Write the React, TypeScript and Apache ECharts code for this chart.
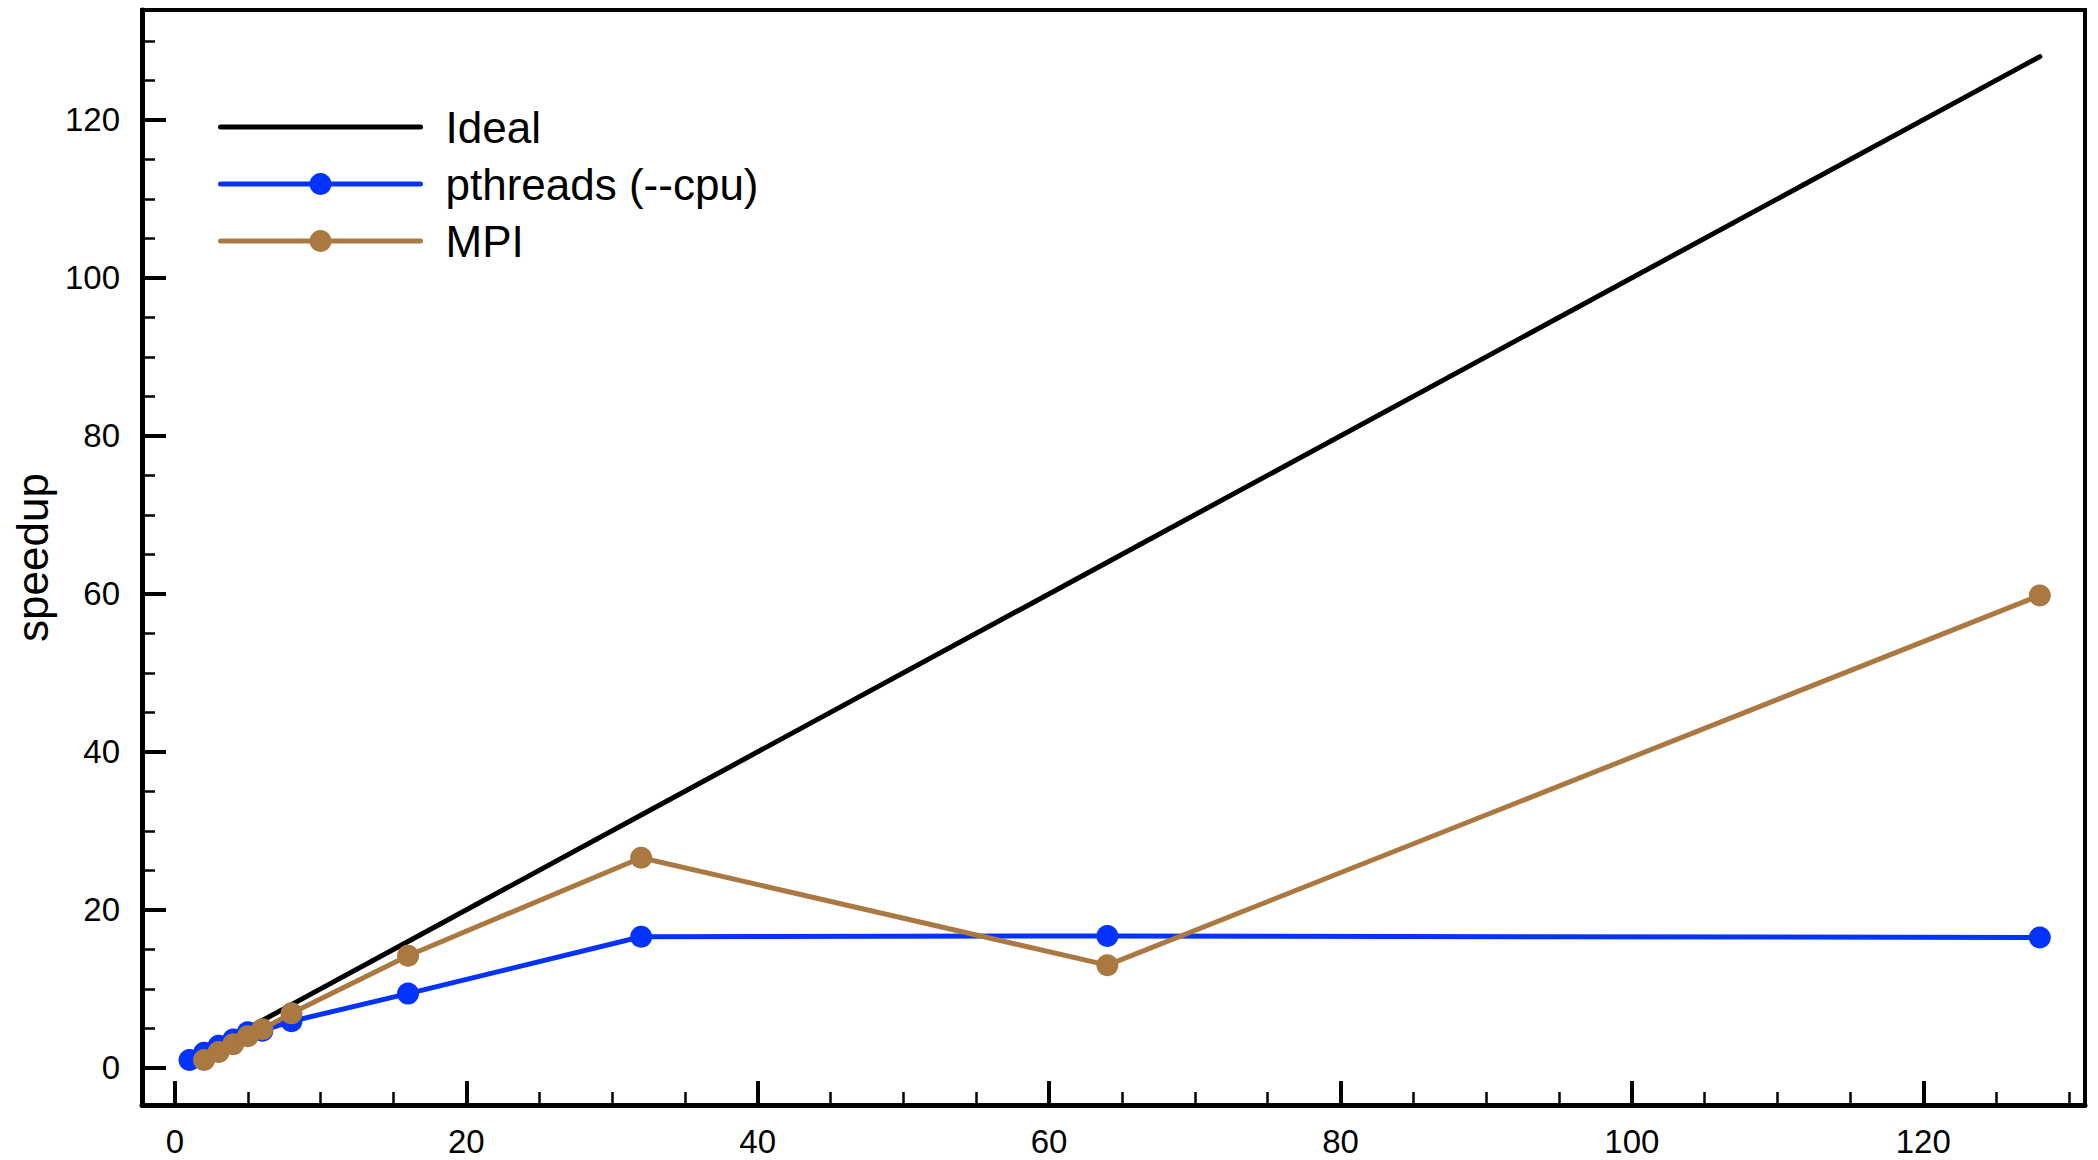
import React, { useEffect, useRef } from "react";
import * as echarts from "echarts";

const threads = [1, 2, 3, 4, 5, 6, 8, 16, 32, 64, 128];
const idealSpeedup = [1, 2, 3, 4, 5, 6, 8, 16, 32, 64, 128];
const pthreadsSpeedup = [1.0, 1.9, 2.8, 3.6, 4.5, 4.7, 5.9, 9.4, 16.6, 16.7, 16.5];
const mpiProcs = [2, 3, 4, 5, 6, 8, 16, 32, 64, 128];
const mpiSpeedup = [1.0, 2.0, 3.0, 4.0, 4.9, 6.9, 14.2, 26.6, 13.0, 59.8];

const xMajorTicks = [0, 20, 40, 60, 80, 100, 120];
const xMinorTicks = [5, 10, 15, 25, 30, 35, 45, 50, 55, 65, 70, 75, 85, 90, 95, 105, 110, 115, 125, 130];
const yMajorTicks = [0, 20, 40, 60, 80, 100, 120];
const yMinorTicks = [5, 10, 15, 25, 30, 35, 45, 50, 55, 65, 70, 75, 85, 90, 95, 105, 110, 115, 125, 130];

const X_MIN = -2.26;
const X_MAX = 131.1;
const Y_MIN = -4.7;
const Y_MAX = 133.9;

const FONT = "'Liberation Sans', Arial, Helvetica, sans-serif";
const BLUE = "#0433FF";
const BROWN = "#AA7942";

export default function App() {
  const ref = useRef<HTMLDivElement>(null);

  useEffect(() => {
    if (!ref.current) return;
    const chart = echarts.init(ref.current, undefined, { renderer: "svg" });

    const zip = (xs: number[], ys: number[]) => xs.map((x, i) => [x, ys[i]]);

    const baseX = {
      type: "value",
      min: X_MIN,
      max: X_MAX,
      position: "bottom",
      splitLine: { show: false },
    };
    const baseY = {
      type: "value",
      min: Y_MIN,
      max: Y_MAX,
      position: "left",
      splitLine: { show: false },
    };

    chart.setOption({
      animation: false,
      backgroundColor: "#ffffff",
      textStyle: { fontFamily: FONT },
      grid: {
        left: 142,
        right: 13,
        top: 10,
        bottom: 55,
        show: true,
        borderColor: "#000",
        borderWidth: 4,
        containLabel: false,
      },
      legend: {
        orient: "vertical",
        left: 218,
        top: 105,
        padding: 0,
        itemWidth: 200,
        itemHeight: 27.5,
        itemGap: 13,
        lineStyle: { width: 5, cap: "round" },
        textStyle: {
          fontSize: 44,
          color: "#000",
          fontFamily: FONT,
          padding: [0, 0, 0, 20],
        },
        data: [
          { name: "Ideal", itemStyle: { opacity: 0 }, lineStyle: { width: 5, color: "#000", cap: "round" } },
          { name: "pthreads (--cpu)", lineStyle: { width: 5, color: BLUE, cap: "round" } },
          { name: "MPI", lineStyle: { width: 5, color: BROWN, cap: "round" } },
        ],
      },
      xAxis: [
        {
          ...baseX,
          axisLine: { show: true, onZero: false, lineStyle: { color: "#000", width: 5 } },
          axisTick: {
            show: true,
            inside: true,
            length: 24,
            customValues: xMajorTicks,
            lineStyle: { color: "#000", width: 4 },
          },
          axisLabel: {
            show: true,
            customValues: xMajorTicks,
            fontSize: 33,
            color: "#000",
            margin: 20,
            fontFamily: FONT,
          },
        },
        {
          ...baseX,
          axisLine: { show: false, onZero: false },
          axisTick: {
            show: true,
            inside: true,
            length: 13,
            customValues: xMinorTicks,
            lineStyle: { color: "#000", width: 2.5 },
          },
          axisLabel: { show: false },
        },
      ],
      yAxis: [
        {
          ...baseY,
          name: "speedup",
          nameLocation: "middle",
          nameRotate: 90,
          nameGap: 86,
          nameTextStyle: { fontSize: 44, color: "#000", fontFamily: FONT },
          axisLine: { show: true, onZero: false, lineStyle: { color: "#000", width: 5 } },
          axisTick: {
            show: true,
            inside: true,
            length: 24,
            customValues: yMajorTicks,
            lineStyle: { color: "#000", width: 4 },
          },
          axisLabel: {
            show: true,
            customValues: yMajorTicks,
            fontSize: 33,
            color: "#000",
            margin: 22,
            fontFamily: FONT,
          },
        },
        {
          ...baseY,
          axisLine: { show: false, onZero: false },
          axisTick: {
            show: true,
            inside: true,
            length: 13,
            customValues: yMinorTicks,
            lineStyle: { color: "#000", width: 2.5 },
          },
          axisLabel: { show: false },
        },
      ],
      series: [
        {
          name: "Ideal",
          type: "line",
          xAxisIndex: 0,
          yAxisIndex: 0,
          data: zip(threads, idealSpeedup),
          symbol: "none",
          lineStyle: { color: "#000", width: 5, cap: "round" },
          itemStyle: { color: "#000" },
          z: 2,
        },
        {
          name: "pthreads (--cpu)",
          type: "line",
          xAxisIndex: 0,
          yAxisIndex: 0,
          data: zip(threads, pthreadsSpeedup),
          symbol: "circle",
          symbolSize: 22,
          lineStyle: { color: BLUE, width: 5 },
          itemStyle: { color: BLUE },
          z: 3,
        },
        {
          name: "MPI",
          type: "line",
          xAxisIndex: 0,
          yAxisIndex: 0,
          data: zip(mpiProcs, mpiSpeedup),
          symbol: "circle",
          symbolSize: 22,
          lineStyle: { color: BROWN, width: 5 },
          itemStyle: { color: BROWN },
          z: 4,
        },
      ],
    });

    return () => chart.dispose();
  }, []);

  return (
    <div
      ref={ref}
      style={{
        position: "absolute",
        left: 0,
        top: 0,
        width: 2098,
        height: 1160,
        background: "#fff",
      }}
    />
  );
}
